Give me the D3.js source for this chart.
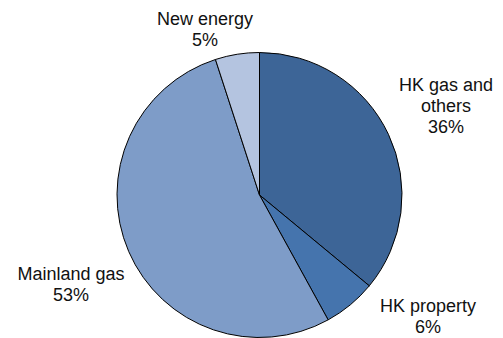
<!DOCTYPE html>
<html>
<head>
<meta charset="utf-8">
<script src="https://cdn.jsdelivr.net/npm/d3@7"></script>
<style>
  html, body { margin: 0; padding: 0; background: #ffffff; }
  svg { display: block; }
  text { font-family: "Liberation Sans", Arial, sans-serif; fill: #111111; }
</style>
</head>
<body>
<svg id="chart" width="503" height="338"></svg>
<script>
// Segment mix (share of total, %)
const segments = ["HK gas and others", "HK property", "Mainland gas", "New energy"];
const shares = [36, 6, 53, 5];
const labelLines = [["HK gas and", "others"], ["HK property"], ["Mainland gas"], ["New energy"]];
const sliceColors = ["#3d6597", "#4574ad", "#7e9cc8", "#b4c4e0"];

// Layout
const width = 503, height = 338;
const cx = 259.5, cy = 195, radius = 142.5;
const fontSize = 18, lineGap = 21;
// Label anchor: horizontal centre and first baseline, relative to the pie centre
const labelAnchor = [
  { dx: 186.5, dy: -104 },
  { dx: 168.5, dy: 117 },
  { dx: -188.5, dy: 85 },
  { dx: -54.5, dy: -170 }
];

const data = segments.map((name, i) => ({ name, value: shares[i], lines: labelLines[i], i }));

const svg = d3.select("#chart");
const g = svg.append("g").attr("transform", `translate(${cx},${cy})`);

const pie = d3.pie().sort(null).value(d => d.value).startAngle(0).endAngle(2 * Math.PI);
const arc = d3.arc().innerRadius(0).outerRadius(radius);

g.selectAll("path.slice")
  .data(pie(data))
  .join("path")
  .attr("class", "slice")
  .attr("d", arc)
  .attr("fill", d => sliceColors[d.data.i])
  .attr("stroke", "#000000")
  .attr("stroke-width", 1)
  .attr("stroke-linejoin", "round");

const labels = g.selectAll("text.label")
  .data(data)
  .join("text")
  .attr("class", "label")
  .attr("text-anchor", "middle")
  .attr("font-size", fontSize);

labels.each(function(d) {
  const t = d3.select(this);
  const a = labelAnchor[d.i];
  const rows = d.lines.concat([d.value + "%"]);
  rows.forEach((row, k) => {
    t.append("tspan")
      .attr("x", a.dx)
      .attr("y", a.dy + k * lineGap)
      .text(row);
  });
});
</script>
</body>
</html>
